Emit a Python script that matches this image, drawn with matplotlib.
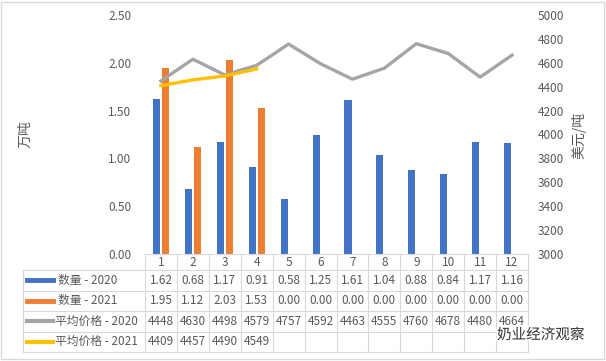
import matplotlib.pyplot as plt
import matplotlib.patheffects as pe
from matplotlib.patches import Rectangle

plt.rcParams['font.family'] = ['Noto Sans CJK SC', 'DejaVu Sans']

months = [str(i) for i in range(1, 13)]
qty_2020 = [1.62, 0.68, 1.17, 0.91, 0.58, 1.25, 1.61, 1.04, 0.88, 0.84, 1.17, 1.16]
qty_2021 = [1.95, 1.12, 2.03, 1.53, 0.00, 0.00, 0.00, 0.00, 0.00, 0.00, 0.00, 0.00]
price_2020 = [4448, 4630, 4498, 4579, 4757, 4592, 4463, 4555, 4760, 4678, 4480, 4664]
price_2021 = [4409, 4457, 4490, 4549]

names = ['数量 - 2020', '数量 - 2021', '平均价格 - 2020', '平均价格 - 2021']
colors = ['#4472C4', '#ED7D31', '#A5A5A5', '#FFC000']
txt = '#595959'
grid = '#D9D9D9'

W, H = 606, 361
fig = plt.figure(figsize=(W / 100, H / 100), dpi=100)

def fx(px):
    return px / W

def fy(py):
    return 1 - py / H

x0, x1 = 145, 528
ytop, ybot = 15, 254
ax = fig.add_axes([fx(x0), fy(ybot), fx(x1 - x0), (ybot - ytop) / H])
n = len(months)
xs = list(range(n))
ax.bar([x - 0.14 for x in xs], qty_2020, width=0.22, color=colors[0])
ax.bar([x + 0.14 for x in xs], qty_2021, width=0.22, color=colors[1])
ax.set_xlim(-0.5, n - 0.5)
ax.set_ylim(0, 2.5)
ax.set_yticks([0, 0.5, 1.0, 1.5, 2.0, 2.5])
ax.set_yticklabels(['%.2f' % v for v in ax.get_yticks()])
ax.set_xticks([])
for s in ax.spines.values():
    s.set_visible(False)
ax.tick_params(axis='y', length=0, labelsize=8.5, labelcolor=txt, pad=10)

ax2 = ax.twinx()
ax2.plot(xs, price_2020, color=colors[2], lw=2.4)
ax2.plot(xs[:len(price_2021)], price_2021, color=colors[3], lw=2.4)
ax2.set_ylim(3000, 5000)
ax2.set_yticks(range(3000, 5001, 200))
for s in ax2.spines.values():
    s.set_visible(False)
ax2.tick_params(axis='y', length=0, labelsize=8.5, labelcolor=txt, pad=7)

fig.text(fx(25), fy(134), '万吨', rotation=90, ha='center', va='center', fontsize=10, color=txt)
fig.text(fx(579), fy(135), '美元/吨', rotation=90, ha='center', va='center', fontsize=10, color=txt)

# data table
cw = (x1 - x0) / n
rows_y = [254, 270, 290.5, 311, 331.5, 352]
lx = 23
line_kw = dict(color=grid, lw=0.8, transform=fig.transFigure)
fig.add_artist(plt.Line2D([fx(x0), fx(x1)], [fy(rows_y[0])] * 2, **line_kw))
for yy in rows_y[1:]:
    fig.add_artist(plt.Line2D([fx(lx), fx(x1)], [fy(yy)] * 2, **line_kw))
for i in range(n + 1):
    xx = x0 + i * cw
    fig.add_artist(plt.Line2D([fx(xx)] * 2, [fy(rows_y[0]), fy(rows_y[-1])], **line_kw))
fig.add_artist(plt.Line2D([fx(lx)] * 2, [fy(rows_y[1]), fy(rows_y[-1])], **line_kw))

for i, m in enumerate(months):
    fig.text(fx(x0 + (i + 0.5) * cw), fy((rows_y[0] + rows_y[1]) / 2), m,
             ha='center', va='center', fontsize=8.5, color=txt)

table_rows = [
    ['%.2f' % v for v in qty_2020],
    ['%.2f' % v for v in qty_2021],
    [str(v) for v in price_2020],
    [str(v) for v in price_2021],
]
key_lw = [3.5, 3.5, 3, 3]
for r, (name, vals) in enumerate(zip(names, table_rows)):
    yc = fy((rows_y[r + 1] + rows_y[r + 2]) / 2)
    fig.add_artist(plt.Line2D([fx(27), fx(53)], [yc, yc], color=colors[r],
                              lw=key_lw[r], transform=fig.transFigure))
    tx = 58 if r < 2 else 55
    fig.text(fx(tx), yc, name, ha='left', va='center', fontsize=8.5, color=txt)
    for i, v in enumerate(vals):
        fig.text(fx(x0 + (i + 0.5) * cw), yc, v, ha='center', va='center',
                 fontsize=8.5, color=txt)

# watermark
fig.text(fx(497), fy(335), '奶业经济观察', ha='left', va='center', fontsize=10.5,
         color='#333333',
         path_effects=[pe.withStroke(linewidth=2.5, foreground='white')])

fig.add_artist(Rectangle((0.002, 0.005), 0.994, 0.99, transform=fig.transFigure,
                         fill=False, edgecolor='#D9D9D9', lw=1))

fig.savefig('out.png', dpi=100)
